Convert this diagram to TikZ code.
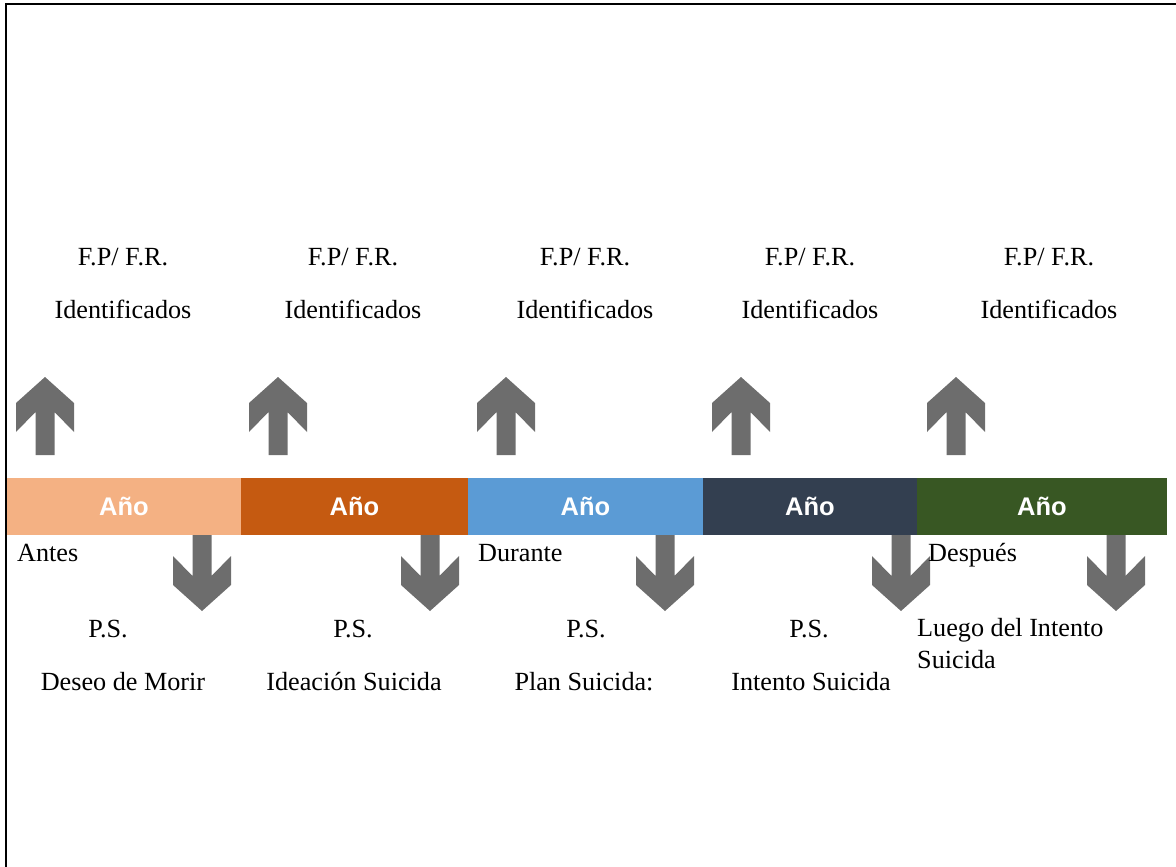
\documentclass[tikz,border=0pt]{standalone}
\usepackage{fontspec}
\setmainfont{Liberation Serif}
\setsansfont{Liberation Sans}
\definecolor{segA}{HTML}{F4B183}
\definecolor{segB}{HTML}{C55A11}
\definecolor{segC}{HTML}{5B9BD5}
\definecolor{segD}{HTML}{333F50}
\definecolor{segE}{HTML}{385723}
\definecolor{arrowgrey}{HTML}{6D6D6D}
\begin{document}
\begin{tikzpicture}[x=1bp, y=-1bp,
  seg/.style={rectangle, inner sep=0pt, outer sep=0pt, minimum height=57bp,
    text=white, font=\sffamily\bfseries\fontsize{25.5bp}{30bp}\selectfont},
  lbl/.style={inner sep=0pt, anchor=base, font=\fontsize{26.2bp}{30bp}\selectfont},
  lbll/.style={lbl, anchor=base west},
  uparrow/.pic={\fill[arrowgrey] (0,0) -- (29,26) -- (29,55) -- (9.5,35) -- (9.5,78)
      -- (-9.5,78) -- (-9.5,35) -- (-29,55) -- (-29,26) -- cycle;},
  downarrow/.pic={\fill[arrowgrey] (0,76) -- (29,50) -- (29,21) -- (9.5,41) -- (9.5,0)
      -- (-9.5,0) -- (-9.5,41) -- (-29,21) -- (-29,50) -- cycle;}]
\useasboundingbox (0,0) rectangle (1176,867);
% frame
\draw[line width=2bp] (6,867) -- (6,4) -- (1177,4);

% time bar
\node[seg, fill=segA, minimum width=234bp] (s1) at (124,506.5) {Año};
\node[seg, fill=segB, minimum width=227bp] (s2) at (354.5,506.5) {Año};
\node[seg, fill=segC, minimum width=235bp] (s3) at (585.5,506.5) {Año};
\node[seg, fill=segD, minimum width=214bp] (s4) at (810,506.5) {Año};
\node[seg, fill=segE, minimum width=250bp] (s5) at (1042,506.5) {Año};

% upward arrows
\foreach \x in {45,278,506,741,956} \pic at (\x,377) {uparrow};
% downward arrows
\foreach \x in {202,430,665,901,1116} \pic at (\x,535) {downarrow};

% factors above the bar
\foreach \x/\n in {123/1,353/2,585/3,810/4,1049/5} {
  \node[lbl] (fp\n) at (\x,265) {F.P/ F.R.};
  \node[lbl] (id\n) at (\x,318) {Identificados};
}

% phases
\node[lbll] (antes) at (17,561) {Antes};
\node[lbll] (durante) at (478,561) {Durante};
\node[lbll] (despues) at (928,561) {Después};

% stages below the bar
\node[lbl] (ps1) at (108,637) {P.S.};
\node[lbl] (ps2) at (353,637) {P.S.};
\node[lbl] (ps3) at (586,637) {P.S.};
\node[lbl] (ps4) at (809,637) {P.S.};
\node[lbl] (st1) at (123,690) {Deseo de Morir};
\node[lbl] (st2) at (354,690) {Ideación Suicida};
\node[lbl] (st3) at (584,690) {Plan Suicida:};
\node[lbl] (st4) at (811,690) {Intento Suicida};
\node[lbll] (st5a) at (917,636) {Luego del Intento};
\node[lbll] (st5b) at (917,668) {Suicida};
\end{tikzpicture}
\end{document}
